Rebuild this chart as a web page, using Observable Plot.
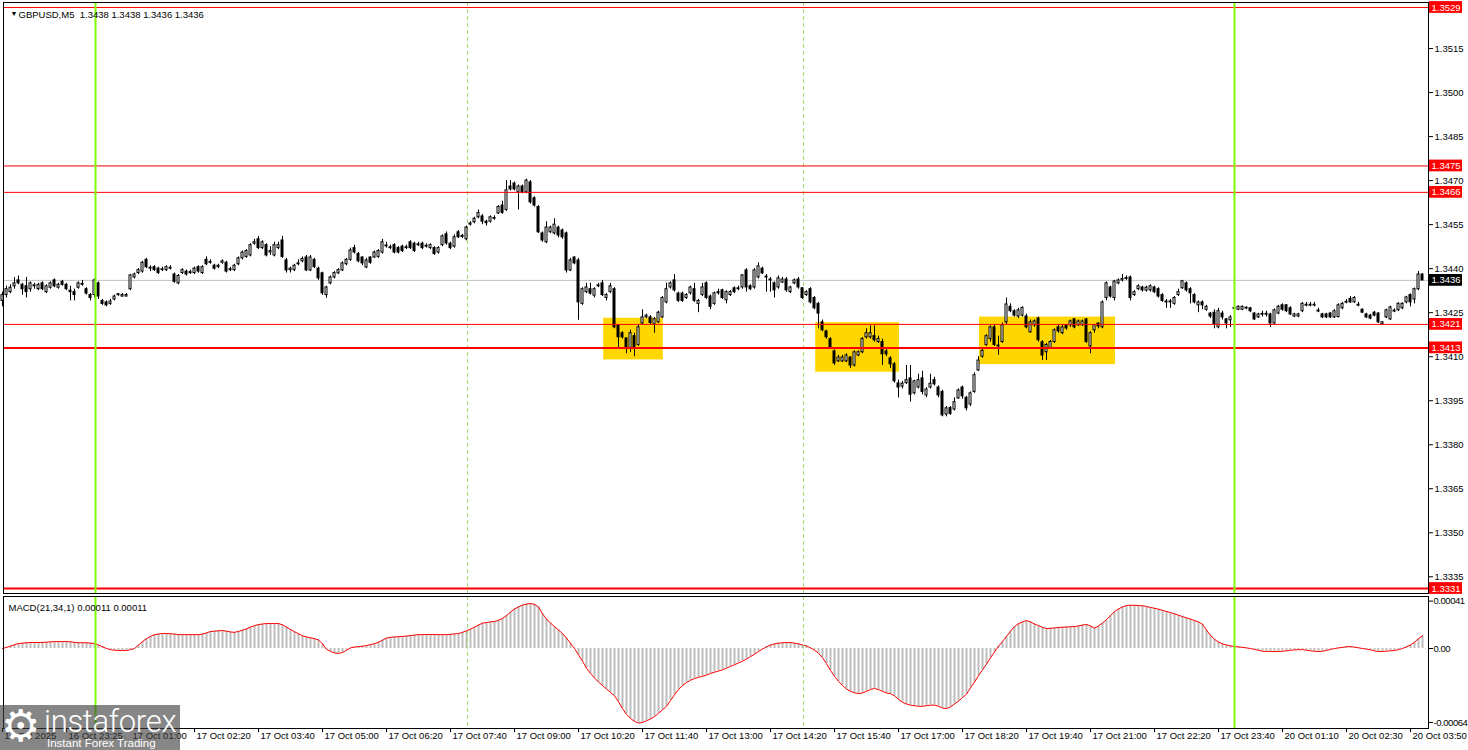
<!DOCTYPE html>
<html><head><meta charset="utf-8">
<script src="https://cdn.jsdelivr.net/npm/d3@7"></script>
<script src="https://cdn.jsdelivr.net/npm/@observablehq/plot@0.6"></script>
<style>
html,body{margin:0;padding:0;background:#fff;}
#chart{position:relative;width:1468px;height:750px;overflow:hidden;background:#fff;font-family:"Liberation Sans",Arial,sans-serif;}
#main{position:absolute;left:0;top:0;}
#macd{position:absolute;left:0;top:594px;}
#macd svg g[aria-label^="y-axis"] text{letter-spacing:-0.45px;}
#logo{position:absolute;left:0;top:705px;width:180px;height:45px;background:rgba(60,60,60,0.62);color:#fff;}
#logo .gear{position:absolute;left:1px;top:-1px;font:44px/1 "DejaVu Sans",sans-serif;}
#logo .brand{position:absolute;left:44px;top:1px;font:300 31px/1 Roboto,"Open Sans",sans-serif;letter-spacing:-0.3px;}
#logo .tag{position:absolute;left:47px;top:33px;font:11.5px/1 "Liberation Sans",Arial,sans-serif;}
</style></head><body>
<div id="chart"><div id="main"></div><div id="macd"></div>
<div id="logo"><span class="gear">⚙</span><span class="brand">instaforex</span><span class="tag">Instant Forex Trading</span></div></div>
<script>
// ---- price data: pips above 1.3400 for each 5-minute bar ----
const pipBase = 1.3400;
const openPips = [
29,31,32,34,36,34.5,34,33,34,33,
35,32,33.5,36,33.5,35.5,34.5,32.5,32,33.5,
34.5,33,31,31,35,29,28.5,28,29.5,31,
30.5,30.5,33,37,38.5,39,43,40,40.5,40,
39.5,39.5,40,38,35,38.5,39,38.5,38.5,40.5,
38.5,43,42,41,40.5,42,42,39.5,39.5,41.5,
43.5,44,44.5,48.5,50,47,48,45.5,44.5,47,
49.6,42.8,39.5,39.5,41.5,42.5,43.8,39.4,43,40,
38.4,31,35,37,38.4,39.4,41.5,43,47,45,
43.8,40.4,43.8,43.8,44,45.5,47.6,47,48,47,
47.5,47,49,48.5,48,48.5,47.5,47,47,45.5,
48,51.7,48.5,47.5,52.4,50.8,50,55,55.8,57.5,
57.8,56,56,57,58.8,61.5,60,68,69,66,
68,66,69.4,64,61,52,49,52.4,52,54,
53,52,39.4,43.8,42.8,28,32,33,30.8,34,
35,30,32,33,20.7,18,16.2,13,17,14,
21.3,23.4,23.4,21,21.7,23.4,28.5,33.6,36,31.5,
31.5,30,31.6,33,28,31,35,30.5,28,31.6,
32.6,29.2,31,33.3,33,33.6,39.4,34,33.6,37,
40,37,36,35,33.6,35.3,36.3,32,35,36.3,
33.3,31,33,30,28,21.7,18.6,16,11.8,8.4,
8.4,8.4,9.7,7,10.4,11.5,16.6,16.6,17,15,
15,11.8,9.4,7.4,0.9,-0.2,1,2.6,-2.5,-0.5,
2.6,-3.2,-0.5,2,-0.5,-2,-9.7,-7.5,-8,-4.2,
-0.5,-4,-6.3,-2,5.3,10,14,16,20,13.5,
15,21.7,27,25.5,23.7,24,23.7,18.3,20.7,23,
14.9,11.5,13,15,20,18,20.7,20.7,22.7,20.7,
20.7,22.7,13.5,19,21.3,20,30,33.6,30,35,
36,36.5,37,31,33,33.6,32.5,32.6,33.6,33,
31,28.5,28.5,28,31,33.3,35,33,31,27.5,
28.5,26,24.7,25,20,24.7,22.7,22.4,26.3,26,
26,26.4,26.5,24.7,23.4,24.3,24.3,24.4,21.3,24.7,
27.5,27.5,26.5,23.7,23.7,25.5,27.4,27.4,27.4,25.4,
24.4,24.4,24.7,23.4,23.5,26.5,28.4,29.7,28.5,27.4,
26,24.4,24,25,24.7,21,23.4,22.7,25.4,25.8,
26.5,28.5,31,29.5,33,38];
const closePips = [
31,33,33.5,35,35,33,32,35,34.3,34.5,
33,34,35,34,34.5,34.5,33,32,31,35,
34.8,31.5,30,36,30.5,28,27.5,28.8,30.5,31.3,
31,31,37.7,38,39.5,42,40.5,40.3,39.5,38.5,
39.8,40.5,40.3,35.5,37.5,39.5,38,38.8,40,39,
40.5,41.5,42.3,40,41,42.5,39,39.8,41,43.5,
45.5,46,48,49,47,49,44.5,46,48,48,
44,39.4,40,41,41.8,43.3,39.4,43.8,40.5,36.7,
31.6,33.6,37,38.5,39.5,41.8,43,46.2,45.5,42.5,
41.8,42.8,42,45.5,46,49,47.9,47.3,45.5,45.5,
46,47.3,47,46,48.3,47,47.8,48,45,47,
51,48.6,47,50.7,50.7,51.2,54,55.4,57,59,
56,55.5,57.5,57.3,61,59,66.7,67,67,68,
66,70,62.6,61.5,52.4,49.6,54,54,55,51.3,
50.7,39.4,42.8,41.8,28.5,33,33.6,31.5,33,34.3,
31,31,34,20,16.6,16.6,13,18,13,20,
23.4,24,21.5,22.8,25,30,33,35,32.6,29,
29,31,33.6,29,29,33.6,30,27,31.6,32,
30,32,32,32,33.3,37.7,33.6,33,39.4,40.8,
38.4,37.3,36.3,32.6,36.7,36.3,32.6,33.6,36,33.6,
30,32,28.5,26.5,24.7,19,16.6,13,7.7,9.7,
9.7,10.4,7,11.5,11.5,16,18,18,15.6,16,
10.8,10.8,7.4,1.6,-0.5,0.8,2,-3,1.6,2,
-2,-1.2,0.8,0.6,-3.2,-10,-7.6,-9.5,-5.5,-1.5,
-3.5,-7.6,-2.5,3.7,8.7,12,17,20,14,13.8,
20.7,27.8,25.5,24,25.8,26.6,20,21.7,22,15.6,
10.4,14,15,19,18.6,20,19.6,22,20,22,
22,15,18,20.7,20.3,28.5,35,30.5,35.6,36,
36.5,36.8,30,32,34,32.6,33.5,34,32,30.5,
29,28.8,28.8,30,32,35.7,32.6,31.6,28.5,28.5,
27.5,27,23.7,21,25.5,23.4,21.3,23.4,26.6,27,
27,26.7,25.5,22.7,24.4,24.6,24.6,21.3,25.8,27,
26,25.5,24.4,24.4,24.4,28,27.7,27.7,27.7,25.7,
23.4,23.4,23.4,25.5,27.5,28,28.7,28.5,30,27.7,
25,23.4,23,24,21.7,21.7,25.8,26.8,25.7,28,
28,30.2,28.5,33,38,36];
const highPips = [
32,34,34.5,37,37.5,35,37,35.5,35,35,
35.5,34.5,35.5,36.5,35,36,35,34,33,35.5,
36,33.5,31.5,36.5,35.5,29.5,29,29.5,31,31.5,
31.5,31.5,38,38.5,40,42.5,43.5,41,41,40.5,
40.5,41,41,38.5,38,40,39.5,39.5,40.5,41,
41,44,43,41.5,41.5,43,42.5,40.5,41.5,44,
46,46.5,48.5,50,51,49.5,48.5,47.5,49,49,
51,43.5,40.5,41.5,43,44,44.5,44.5,43.5,40.5,
38.8,34,37.5,39,40,42.3,43.5,47,48,45.5,
44,43.5,44,46,46.5,50,49,48,48.5,47.5,
48,48,49.5,49,49,49,48.5,48.5,47.5,47.5,
51.5,52.5,49,51.5,53,51.7,54.5,56,57.5,60,
58.5,56.5,58,58,61.5,63,70,70,69.5,68.5,
68.5,70.5,70,64.5,61.5,52.5,56,54.5,57,54.5,
53.5,52.5,43.5,44,43.5,33.5,35,35,33.5,35,
36,31.5,35,33.5,21,18.5,16.5,19,18,21,
26,24.5,24,23.3,25.5,30.5,35,35.5,38,32,
32,31.5,34,35,29.5,35,35.5,31,32,33,
33,32.5,32.5,33.8,34,38,40,34.5,40,42,
40.5,38,37,35.5,37.5,37,37,34,36.5,37,
33.5,32.5,33.5,30.5,28.5,22.5,19,16.5,12.3,10.5,
10.5,11,10,12,12,16.5,19.5,20.5,20.5,17,
16,12.5,10,8,2,1.5,7,7,2,4,
5,-0.5,4,3,0,-1.5,-7,-7,-4,-1,
0,-3.5,-2,4.5,10,12.5,17.5,20.5,21,17,
21.5,30,28,26,26.5,27,24.5,22.5,22.5,23.5,
15.5,14.5,15.5,19.5,21,21,21,22.5,23,22.5,
22.5,23,18.5,21,21.5,29,35.5,34,36,36.5,
38,37.5,37.5,32.5,34.5,34,34,34.5,34,33.5,
31.5,29.5,29.5,30.5,33,36,35.5,33.5,31.5,29,
29,27.5,25,26,26.5,25.5,23,24,27,27.3,
27.3,27,26.8,25,24.8,25.5,25.5,24.8,26.3,27.5,
28,27.8,27,24.8,24.8,28.5,28.5,28.5,28.5,26.5,
24.8,24.8,25,26,28,28.5,29.5,30.5,30.5,28.5,
26.3,24.8,24.4,25.4,25,22,26.2,27.2,26.3,28.4,
28.4,30.6,31.4,33.4,39,38.3];
const lowPips = [
27,30,31.5,33,34.5,31,30,32,33,32.5,
32.5,31.5,33,33.5,33,34,32.5,29,29,33,
34,31,29,30,29.5,27.5,27,27.5,29,30.5,
30.3,30.3,32.5,36.5,38,38.5,40,39,39,38,
39,39,39.5,35,34.5,38,37.5,38,38,38.5,
38,41,41.5,39.5,40,41.5,38.5,39,39,41,
43,43.5,44,48,46.5,46.5,44,44.5,44,46.5,
43.5,38.5,38.5,39,41,42,39,39,40,36,
30.9,29.9,34.5,36.5,38,39,41,42.5,45,42,
41,40,41.5,43.5,43.5,45,47,46.5,45,45,
45.5,46.5,46.5,45.5,47.5,46.5,47,46.5,44.5,45,
47.5,48,46.5,47,50.3,50.3,49.5,54.5,55.3,57,
55,54.5,55.5,56.5,58.5,58.5,59.5,66.5,66.5,60,
65.5,65.5,62,61,52,49,48.5,52,51.5,50.5,
50,38.5,39,41.3,22.4,27.5,31.5,31,30,33.5,
30.5,29,31.5,19.5,13,16,11,11.5,10,13.5,
21,23,21,18,21.3,23,28,33,32,28.5,
28.5,29.5,31,28.5,25,30.5,29.5,26,27.5,31,
29.5,28,30.5,31.5,32.5,33,32,32.5,33,36.5,
38,32,32,30,33,35,32,31.5,34.5,33,
29.5,30.5,28,26,19.5,18.5,16,12.5,7,8,
8,8,6,6.5,10,11,16,16,15,14.5,
7,10,6,1,-4,-1,0.5,-5.5,-3,-1,
-3,-4,-1,0,-4,-10.5,-10.5,-10,-8.5,-4.5,
-4.5,-8.5,-7,-2.5,5,9.5,13.5,15,13.5,10.5,
14.5,21,25,23.5,23,23.5,19.5,18,20,15,
8.7,8.7,12.5,14.5,18,17.5,19,20,19.5,20.3,
20.3,14.5,11,18,19.5,19.5,29,30,29,34.5,
35.5,36,29,30.5,32.5,32,32,32,31.5,30,
28.5,26.5,26.5,27.5,30.5,33,32,28,28,25,
26,25.5,23,19.5,19.5,22.5,19.5,20,26,25.7,
25.7,26,25,22.3,23,23.5,23.5,20,21,24.3,
25.5,25,24,23.3,23.3,25,27,27,27,25,
23,23,23,23,23.2,26,28,28.2,28.2,27,
24.7,23,22.6,23.6,21.3,20.7,23,22.3,25,25.4,
26,28,27,28,32.5,35.8];
// ---- MACD(21,34,1) per bar, in units of 0.00001 ----
const macdPoints = [
0,1,2,3.3,4.3,4.6,5,5.2,5.2,5.2,
5.3,5.4,5.8,6,6,6,6,5.8,5.3,5,
5,5,4.6,4.3,3,1.5,0,-1,-1.5,-1.7,
-1.7,-1.7,-1,0,3,6,8.5,10.5,12,12.5,
13,13,12.8,12.5,12,12,12,12,12,12,
12.5,13.5,14.7,15,15.3,15.6,15,14.3,14,14.8,
15.8,17,18.5,19.8,20.7,21.2,21.6,21.6,21.6,21.6,
20.5,18.5,16.4,14.5,12.8,11,10,9.3,8.5,7.5,
4,-0.6,-2.5,-3.8,-4.3,-3.5,-1.5,0.5,1.3,1.6,
2,2.6,3.4,4.2,5.5,7.2,9,9.7,10,10.2,
10.4,10.8,11.2,11.6,12,12,12.1,12.1,12.1,12,
12,12,12.3,12.6,13,14,15.3,16.8,18.5,20.3,
21.9,22.5,23,23.4,24.4,26,28.5,31.5,34.2,36,
37.5,38.4,38.9,38.2,36,30,25.5,22,19,16,
13,9,4.5,0,-5.5,-11,-17,-21.5,-25.5,-29,
-32,-35,-38,-41,-46,-52,-57,-60.5,-63,-64.5,
-64,-62.5,-61,-59,-56,-53,-50,-45,-40,-35.5,
-32,-29.5,-27.5,-26,-25,-24,-23,-21.5,-20.5,-19.5,
-18.5,-17,-15.5,-14,-12.5,-11,-9,-7,-5,-2.7,
-0.5,1.5,3,4,4.6,5,5.2,5.2,4.6,4,
3,2.3,0.5,-1.5,-4,-8,-13,-19,-24,-28.5,
-32,-35,-37,-38.3,-39,-38.5,-37,-35.5,-34.6,-35.5,
-37,-38.5,-39,-41,-44,-46.5,-48,-49,-49.5,-50,
-50,-49.5,-49,-49,-50,-51.5,-52,-50.5,-48,-45.5,
-42.5,-39.5,-34,-29,-23.5,-18.5,-13.5,-8,-3,2,
6,10.5,15,19,21.5,23,24.2,23,21.2,19.8,
18.3,17.3,17.5,17.8,18.2,18.4,18.6,18.8,19,19.5,
20.3,20.8,19.5,17.6,19.5,22,25,28.5,32,34.2,
36,37.2,37.4,37.4,37.2,37,36.3,35.5,34.8,34,
33,32,31.1,30,28.8,27.6,26.5,25.4,24.2,23,
21,16,11.2,8,5.5,4,3,2.3,1.8,1.4,
1,0.5,0,-0.8,-1.6,-2.3,-2.6,-2.6,-2.6,-2.6,
-2.4,-2,-1.5,-1.2,-1,-1,-1.5,-2,-2.4,-2.6,
-2.4,-1.6,-0.8,0,0.5,1,1.5,1.7,1.2,0.6,
0,-0.5,-1.2,-2,-2.6,-2.6,-2.3,-2,-1.7,-1,
0,1.5,3,5.5,8.5,11];

// ---- levels, zones, ticks ----
const thinRedLevels = [1.3529, 1.3475, 1.3466, 1.3421];
const thickRedLevels = [1.3413, 1.3331];
const redLabelLevels = [1.3529, 1.3475, 1.3466, 1.3421, 1.3413, 1.3331];
const bidLevel = 1.3436;
const zoneStartBar = [150.3, 203.3, 244.25];
const zoneEndBar = [165.2, 224.25, 278.25];
const zoneTop = [1.34231, 1.34216, 1.34235];
const zoneBottom = [1.34089, 1.34047, 1.34073];
const greenLineBars = [23.25, 308];
const dashedLineBars = [116.25, 200.25];
const priceTicks = [1.3335,1.3350,1.3365,1.3380,1.3395,1.3410,1.3425,1.3440,1.3455,1.3470,1.3485,1.3500,1.3515];
const macdTicks = [0.00041, 0, -0.00064];
const timeTickBars = [0,16,32,48,64,80,96,112,128,144,160,176,192,208,224,240,256,272,288,304,320,336,352];
const timeTickLabels = ["16 Oct 2025","16 Oct 23:25","17 Oct 01:00","17 Oct 02:20","17 Oct 03:40","17 Oct 05:00","17 Oct 06:20","17 Oct 07:40","17 Oct 09:00","17 Oct 10:20","17 Oct 11:40","17 Oct 13:00","17 Oct 14:20","17 Oct 15:40","17 Oct 17:00","17 Oct 18:20","17 Oct 19:40","17 Oct 21:00","17 Oct 22:20","17 Oct 23:40","20 Oct 01:10","20 Oct 02:30","20 Oct 03:50"];
const titleText = "GBPUSD,M5  1.3438 1.3438 1.3436 1.3436";
const macdTitle = "MACD(21,34,1) 0.00011 0.00011";

const n = openPips.length;
[closePips, highPips, lowPips, macdPoints].forEach((a, j) => {
  if (a.length !== n) throw new Error("length mismatch in array " + j + ": " + a.length + " vs " + n);
});

const bars = openPips.map((o, i) => {
  const O = pipBase + o / 10000, C = pipBase + closePips[i] / 10000;
  const H = pipBase + highPips[i] / 10000, L = pipBase + lowPips[i] / 10000;
  return {i, o: O, c: C, h: Math.max(H, O, C), l: Math.min(L, O, C)};
});
const macd = macdPoints.map((v, i) => ({i, v: v / 100000}));
const zones = zoneStartBar.map((s, j) => ({x1: s, x2: zoneEndBar[j], y1: zoneBottom[j], y2: zoneTop[j]}));

const font = '"Liberation Sans", Arial, sans-serif';
const xDomain = [0.25, 356.5];

const mainPlot = Plot.plot({
  width: 1468, height: 594,
  marginLeft: 3, marginRight: 40, marginTop: 2, marginBottom: 1,
  x: {domain: xDomain, axis: null},
  y: {domain: [1.33293, 1.35307], axis: "right", ticks: priceTicks, tickFormat: d => d.toFixed(4), tickSize: 4, tickPadding: 2, label: null},
  style: {background: "transparent", fontFamily: font, fontSize: "9.5px", color: "#000", overflow: "visible"},
  marks: [
    Plot.rect(zones, {x1: "x1", x2: "x2", y1: "y1", y2: "y2", fill: "#ffd700"}),
    Plot.ruleX(dashedLineBars, {stroke: "#a8d870", strokeDasharray: "4,3", strokeWidth: 1}),
    Plot.ruleY([bidLevel], {stroke: "#c0c0c0", strokeWidth: 1}),
    Plot.ruleX(bars, {x: "i", y1: "l", y2: "h", stroke: "#000", strokeWidth: 1}),
    Plot.rect(bars, {x1: d => d.i - 0.25, x2: d => d.i + 0.25, y1: "o", y2: "c", fill: d => d.c >= d.o ? "#fff" : "#000", stroke: "#000", strokeWidth: 1}),
    Plot.ruleY(thinRedLevels, {stroke: "#ff0000", strokeWidth: 1}),
    Plot.ruleY(thickRedLevels, {stroke: "#ff0000", strokeWidth: 2}),
    Plot.ruleX(greenLineBars, {stroke: "#7fff00", strokeWidth: 2}),
    Plot.frame({stroke: "#000"}),
    Plot.rect(redLabelLevels, {x1: 356.75, x2: 365, y1: d => d - 0.0002, y2: d => d + 0.0002, fill: "#ff0000"}),
    Plot.text(redLabelLevels, {x: 357.25, y: d => d, text: d => d.toFixed(4), fill: "#fff", textAnchor: "start"}),
    Plot.rect([bidLevel], {x1: 356.75, x2: 365, y1: d => d - 0.0002, y2: d => d + 0.0002, fill: "#000"}),
    Plot.text([bidLevel], {x: 357.25, y: d => d, text: d => d.toFixed(4), fill: "#fff", textAnchor: "start"}),
    Plot.text(["▼"], {frameAnchor: "top-left", dx: 7, dy: 9, fontSize: 7, fill: "#000"}),
    Plot.text([titleText], {frameAnchor: "top-left", dx: 15, dy: 9, textAnchor: "start", fill: "#000"})
  ]
});
document.getElementById("main").appendChild(mainPlot);

const macdPlot = Plot.plot({
  width: 1468, height: 156,
  marginLeft: 3, marginRight: 40, marginTop: 2, marginBottom: 22,
  x: {domain: xDomain, axis: null},
  y: {domain: [-0.000692, 0.00045], axis: "right", ticks: macdTicks, tickFormat: d => d === 0 ? "0.00" : d.toFixed(5), tickSize: 4, tickPadding: 1, label: null},
  style: {background: "transparent", fontFamily: font, fontSize: "9.5px", color: "#000", overflow: "visible"},
  marks: [
    Plot.ruleX(macd, {x: "i", y1: 0, y2: "v", stroke: "#bdbdbd", strokeWidth: 2}),
    Plot.line(macd, {x: "i", y: "v", stroke: "#ff0000", strokeWidth: 1}),
    Plot.ruleX(dashedLineBars, {stroke: "#a8d870", strokeDasharray: "4,3", strokeWidth: 1}),
    Plot.ruleX(greenLineBars, {stroke: "#7fff00", strokeWidth: 2}),
    Plot.frame({stroke: "#000"}),
    Plot.ruleX(timeTickBars, {y1: -0.000692, y2: -0.000728, stroke: "#000"}),
    Plot.text(timeTickBars, {x: d => d, text: (d, i) => timeTickLabels[i], frameAnchor: "bottom", dy: 10, dx: 2, textAnchor: "start", fill: "#000"}),
    Plot.text([macdTitle], {frameAnchor: "top-left", dx: 5, dy: 8, textAnchor: "start", fill: "#000"})
  ]
});
document.getElementById("macd").appendChild(macdPlot);
</script></body></html>
